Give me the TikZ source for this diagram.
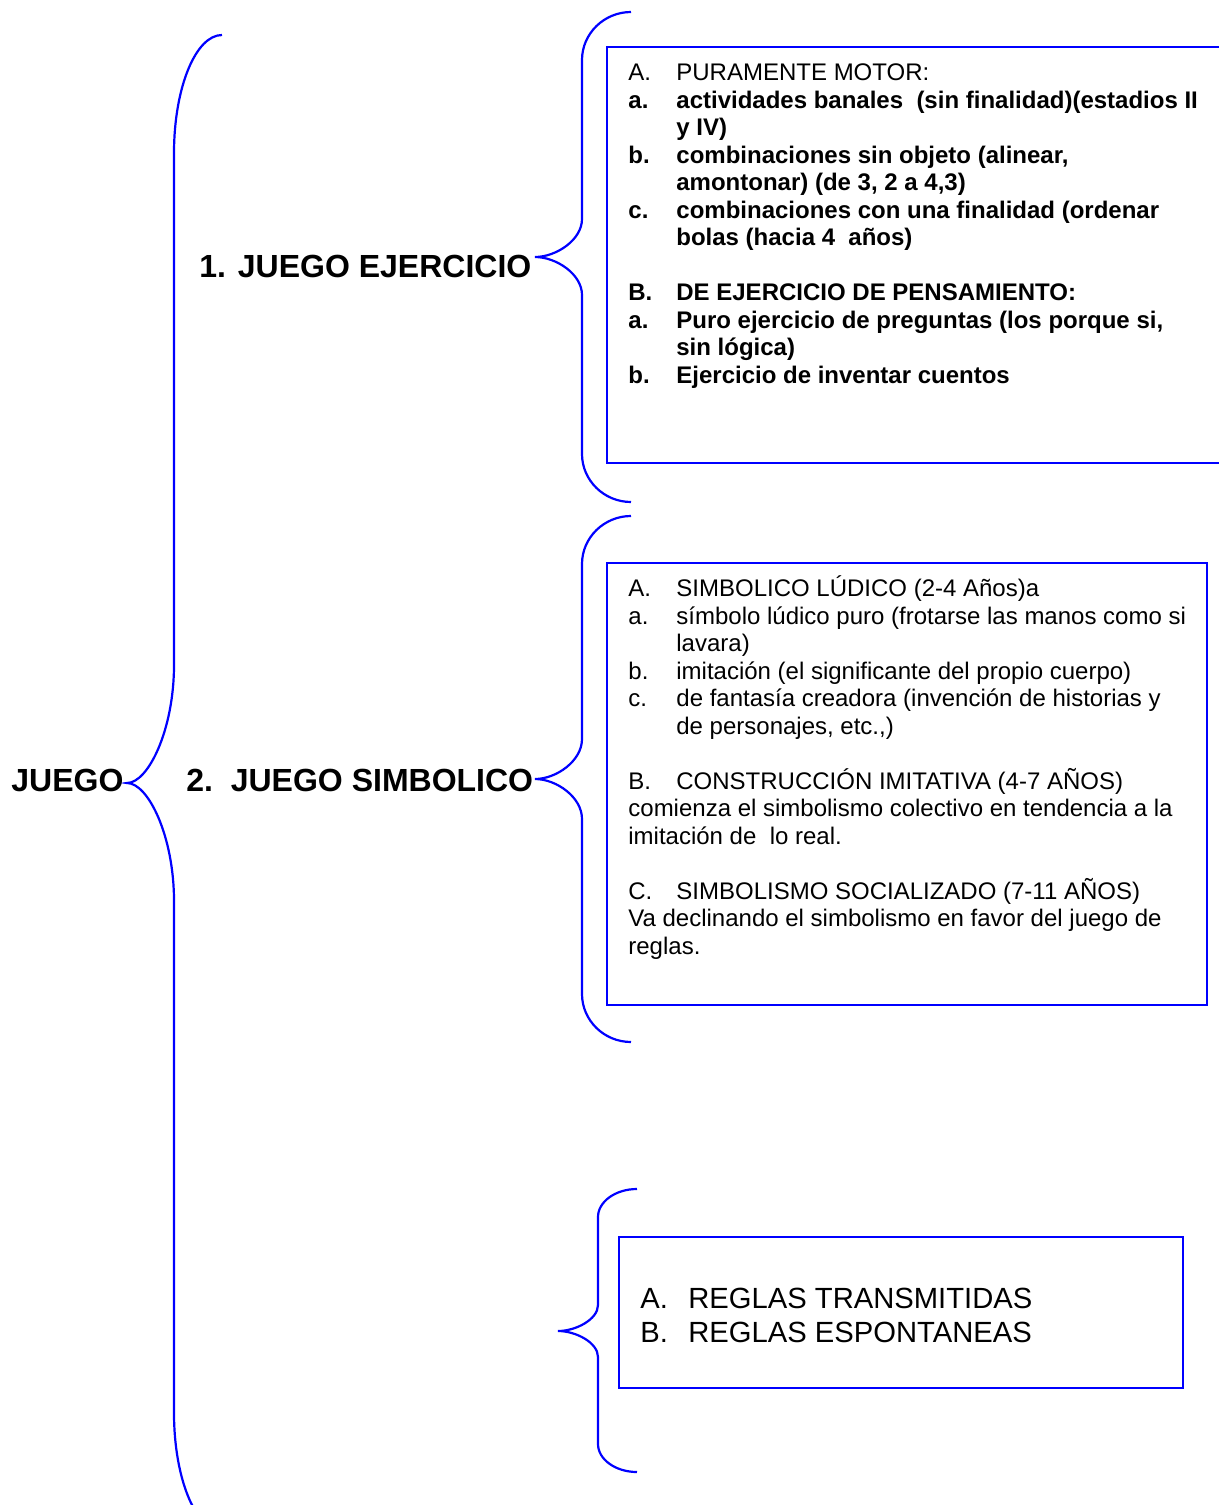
\documentclass[tikz,border=0pt]{standalone}
\usepackage{fontspec}
\setmainfont{Liberation Sans}
\usepackage{array}
\definecolor{bracecol}{RGB}{0,0,255}
\tikzset{
  bline/.style={draw=bracecol, line width=1.1pt},
  boxframe/.style={draw=bracecol, line width=1.1pt},
  headtxt/.style={font=\fontsize{16pt}{18pt}\selectfont\bfseries, anchor=base west, inner sep=0pt},
  bodytxt/.style={font=\fontsize{12pt}{13.75pt}\selectfont, anchor=base west, inner sep=0pt},
  bigtxt/.style={font=\fontsize{14.6pt}{17pt}\selectfont, anchor=base west, inner sep=0pt},
}
% #1 end x, #2 vertical x, #3 tip x, #4 top y, #5 tip y, #6 bottom y, #7 end-curve height, #8 middle-curve height
\newcommand\curlybr[8]{%
  \draw[bline] (#1,#4) .. controls ({#2+0.45*(#1-#2)},#4) and (#2,{#4+0.45*#7}) .. (#2,{#4+#7})
    -- (#2,{#5-#8}) .. controls (#2,{#5-0.45*#8}) and ({#3+0.45*(#2-#3)},#5) .. (#3,#5)
    .. controls ({#3+0.45*(#2-#3)},#5) and (#2,{#5+0.45*#8}) .. (#2,{#5+#8})
    -- (#2,{#6-#7}) .. controls (#2,{#6-0.45*#7}) and ({#2+0.45*(#1-#2)},#6) .. (#1,#6);}
\begin{document}
\begin{tikzpicture}[x=0.5pt,y=-0.5pt]
\useasboundingbox (0,0) rectangle (1219,1505);

% braces
\curlybr{222}{174}{127}{35}{783}{1531}{118}{118}
\curlybr{631}{582}{535}{12}{257}{502}{48}{38}
\curlybr{631}{582}{535}{516}{779}{1042}{48}{40}
\curlybr{637}{598}{558}{1189}{1331}{1472}{28}{26}

% boxes
\draw[boxframe] (607,47) rectangle (1232,463);
\draw[boxframe] (607,563) rectangle (1207,1005);
\draw[boxframe] (619,1237) rectangle (1183,1388);

% headings
\node[headtxt] (root) at (11,791) {JUEGO};
\node[headtxt] (h1) at (199,277) {1. JUEGO EJERCICIO};
\node[headtxt] (h2) at (186,791) {2.\ \ JUEGO SIMBOLICO};

% box 1 text
\node[bodytxt] (t1) at (628,80.5) {\begin{tabular}[t]{@{}>{\bfseries}p{24pt}@{}>{\bfseries}l@{}}
\mdseries A. & \mdseries PURAMENTE MOTOR:\\
a. & actividades banales\ \ (sin finalidad)(estadios II\\
 & y IV)\\
b. & combinaciones sin objeto (alinear,\\
 & amontonar) (de 3, 2 a 4,3)\\
c. & combinaciones con una finalidad (ordenar\\
 & bolas (hacia 4\ \ años)\\
 & \\
B. & DE EJERCICIO DE PENSAMIENTO:\\
a. & Puro ejercicio de preguntas (los porque si,\\
 & sin lógica)\\
b. & Ejercicio de inventar cuentos
\end{tabular}};

% box 2 text
\node[bodytxt] (t2) at (628,596.5) {\begin{tabular}[t]{@{}p{24pt}@{}l@{}}
A. & SIMBOLICO LÚDICO (2-4 Años)a\\
a. & símbolo lúdico puro (frotarse las manos como si\\
 & lavara)\\
b. & imitación (el significante del propio cuerpo)\\
c. & de fantasía creadora (invención de historias y\\
 & de personajes, etc.,)\\
 & \\
B. & \smash{CONSTRUCCIÓN IMITATIVA (4-7 AÑOS)}\\
\multicolumn{2}{@{}l@{}}{comienza el simbolismo colectivo en tendencia a la}\\
\multicolumn{2}{@{}l@{}}{imitación de\ \ lo real.}\\
 & \\
C. & \smash{SIMBOLISMO SOCIALIZADO (7-11 AÑOS)}\\
\multicolumn{2}{@{}l@{}}{Va declinando el simbolismo en favor del juego de}\\
\multicolumn{2}{@{}l@{}}{reglas.}
\end{tabular}};

% box 3 text
\node[bigtxt] (t3) at (640,1308.5) {\begin{tabular}[t]{@{}p{24pt}@{}l@{}}
A. & REGLAS TRANSMITIDAS\\
B. & REGLAS ESPONTANEAS
\end{tabular}};
\end{tikzpicture}
\end{document}
